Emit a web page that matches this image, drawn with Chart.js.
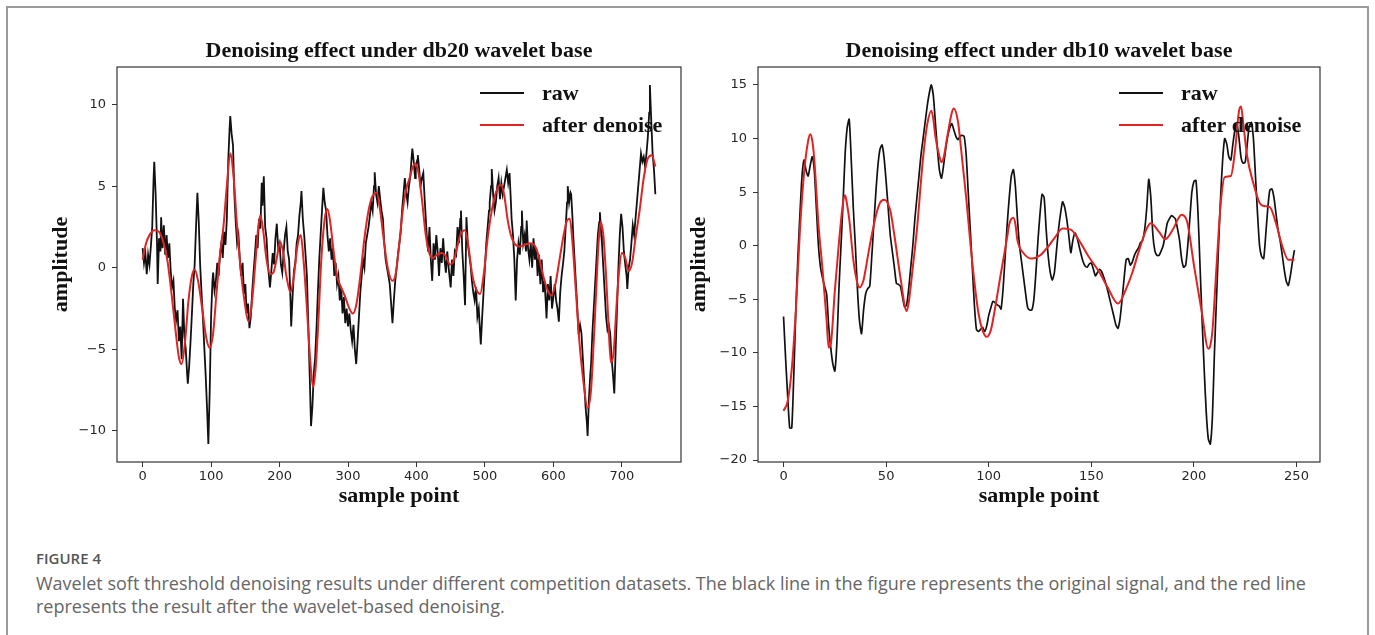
<!DOCTYPE html>
<html>
<head>
<meta charset="utf-8">
<script src="https://cdn.jsdelivr.net/npm/chart.js@4/dist/chart.umd.min.js"></script>
<style>
    html, body { margin: 0; padding: 0; background: #fff; }
    body { width: 1375px; height: 635px; position: relative; overflow: hidden; }
    .marco { position: absolute; left: 6px; top: 6px; width: 1359px; height: 700px; border: 2px solid #9b9b9b; border-bottom: none; }
    canvas { position: absolute; top: 0; }
    #grafica-db20 { left: 0; }
    #grafica-db10 { left: 640px; }
    .pie { position: absolute; left: 36px; top: 547px; width: 1330px; font-family: "Open Sans", sans-serif; color: #666; }
    .pie .etiqueta { font-size: 15px; font-weight: 600; color: #555; line-height: 22px; }
    .pie p { margin: 3px 0 0; font-size: 18px; line-height: 23px; }
</style>
</head>
<body>
<div class="marco"></div>
<canvas id="grafica-db20" width="700" height="520"></canvas>
<canvas id="grafica-db10" width="735" height="520"></canvas>
<div class="pie">
    <div class="etiqueta">FIGURE 4</div>
    <p>Wavelet soft threshold denoising results under different competition datasets. The black line in the figure represents the original signal, and the red line<br>represents the result after the wavelet-based denoising.</p>
</div>
<script>
// Ejes
const ticksXDb20 = [0, 100, 200, 300, 400, 500, 600, 700];
const ticksYDb20 = [-10, -5, 0, 5, 10];
const ticksXDb10 = [0, 50, 100, 150, 200, 250];
const ticksYDb10 = [-20, -15, -10, -5, 0, 5, 10, 15];

const etiquetas = ["raw", "after denoise"];

// [muestra, amplitud] - db20
const crudaDb20 = [
    [0,1.2],[2,0.3],[4,0.9],[6,-0.4],[8,0.8],[10,0.2],[12,1.3],[14,2.5],[16,5.5],[17,6.5],[19,4.5],[21,1.5],[22,-1.0],[24,1.8],[26,1.0],[27,3.1],[29,1.2],[31,2.6],[33,0.8],[35,2.0],[37,0.6],[39,1.5],
    [41,-0.2],[43,-1.2],[45,-0.8],[47,-2.5],[49,-3.2],[51,-2.6],[53,-4.5],[55,-3.6],[57,-5.6],[59,-1.9],[61,-4.2],[63,-5.0],[65,-6.5],[66,-7.1],[68,-6.0],[70,-4.5],[72,-2.8],[74,-1.0],[76,0.2],[78,2.5],
    [80,4.6],[82,2.8],[84,0.2],[86,-1.5],[88,-3.0],[90,-4.8],[92,-6.5],[94,-8.5],[96,-10.8],[98,-7.5],[100,-3.0],[102,-0.8],[103,-0.3],[105,-1.4],[107,-0.8],[109,0.3],[111,-0.5],[113,0.8],[115,1.5],
    [117,0.6],[119,2.2],[121,1.4],[123,3.0],[125,6.5],[127,8.5],[128,9.3],[130,8.2],[132,7.5],[134,4.5],[136,2.8],[138,1.5],[140,2.0],[142,0.5],[144,-0.5],[146,0.3],[148,-1.6],[150,-1.0],[152,-2.8],
    [154,-2.2],[156,-3.7],[158,-3.0],[160,-1.5],[162,-0.3],[164,0.8],[166,2.0],[168,1.2],[170,3.0],[172,2.4],[174,5.2],[175,3.8],[177,5.6],[179,2.5],[181,1.8],[183,0.2],[186,-1.2],[188,-0.2],[190,0.9],
    [192,0.2],[194,1.8],[196,2.7],[198,1.2],[200,1.5],[202,0.2],[204,-0.3],[206,1.0],[208,2.0],[210,2.5],[212,1.0],[214,0.5],[216,-2.0],[217,-3.6],[219,-1.8],[221,-0.2],[223,0.3],[225,1.5],[227,2.0],
    [229,3.2],[231,4.0],[232,4.7],[234,3.0],[236,2.0],[238,0.8],[240,-0.5],[242,-3.5],[244,-6.5],[246,-9.7],[248,-8.5],[250,-6.5],[252,-5.5],[254,-3.7],[256,-1.5],[258,0.5],[260,2.0],[262,3.5],[264,4.9],
    [266,4.0],[268,3.5],[270,2.0],[272,1.0],[274,1.8],[276,0.5],[278,1.2],[280,-0.5],[282,0.3],[284,-1.0],[286,-0.5],[288,-2.0],[290,-1.2],[292,-2.8],[294,-1.8],[296,-3.4],[298,-2.5],[300,-3.6],
    [302,-2.8],[304,-3.8],[306,-4.5],[308,-3.5],[310,-5.0],[312,-5.9],[314,-4.5],[316,-3.0],[318,-1.5],[320,-0.5],[322,0.5],[324,0.0],[326,1.5],[328,2.0],[330,2.5],[332,3.2],[334,4.0],[336,3.5],
    [338,5.0],[339,5.85],[341,4.5],[343,4.0],[345,5.0],[347,4.2],[349,3.5],[351,3.0],[353,1.5],[355,0.5],[357,0.0],[359,-0.5],[361,-1.0],[363,-2.2],[365,-3.4],[367,-2.0],[369,-0.8],[371,0.0],
    [373,0.8],[375,1.5],[377,2.2],[379,3.5],[381,4.5],[383,5.5],[385,4.6],[387,4.0],[389,5.0],[391,5.6],[393,6.8],[394,7.3],[396,6.5],[398,5.5],[399,6.0],[401,6.6],[402,6.9],[404,6.0],[406,5.0],
    [408,5.5],[410,5.8],[412,4.2],[413,3.5],[415,2.0],[417,1.0],[419,2.5],[421,0.5],[423,-0.8],[425,1.5],[427,0.5],[429,2.0],[431,1.0],[433,-0.5],[435,1.2],[437,0.3],[439,1.8],[441,0.5],[443,-0.3],
    [445,1.0],[447,0.0],[449,-0.8],[450,-1.2],[452,0.5],[454,-0.5],[456,1.0],[458,0.8],[460,2.5],[462,1.5],[464,3.0],[465,3.5],[467,1.0],[469,-0.5],[471,-2.3],[473,3.1],[475,1.5],[477,0.8],[479,0.2],
    [481,-0.8],[483,-1.5],[485,-2.0],[487,-1.2],[489,-3.0],[491,-2.5],[493,-4.0],[494,-4.7],[496,-3.0],[498,-1.5],[500,0.0],[502,1.5],[504,2.5],[506,3.5],[507,4.0],[509,5.0],[510,6.05],[512,4.5],
    [514,3.5],[516,4.0],[518,5.0],[520,5.5],[522,4.2],[524,5.2],[526,4.5],[528,5.0],[530,5.5],[532,6.0],[534,5.2],[536,5.8],[538,4.0],[539,3.0],[541,2.0],[543,0.5],[545,-2.0],[547,0.5],[549,1.5],
    [551,0.8],[553,2.5],[554,3.5],[556,1.5],[558,2.0],[560,1.0],[561,2.9],[563,1.2],[565,0.5],[567,1.5],[569,0.0],[571,1.8],[573,0.5],[575,1.2],[577,-0.5],[579,0.8],[581,-1.0],[583,0.5],[585,-1.5],
    [587,-0.8],[589,-2.2],[590,-3.1],[592,-1.0],[594,-2.0],[596,-0.5],[598,-2.5],[600,-1.8],[602,-1.0],[604,-2.0],[606,-2.5],[608,-3.3],[610,-1.5],[612,-0.5],[614,0.2],[616,1.0],[618,2.5],[620,4.0],
    [621,5.0],[623,4.0],[625,4.6],[626,4.5],[628,3.0],[629,2.0],[631,0.5],[633,-1.0],[635,-2.5],[637,-4.1],[639,-3.5],[641,-4.0],[643,-5.5],[645,-7.0],[647,-8.5],[649,-9.5],[650,-10.3],[652,-8.0],
    [654,-6.5],[655,-6.0],[657,-4.0],[659,-2.5],[661,-1.0],[663,0.5],[665,2.0],[667,2.8],[668,3.4],[670,2.0],[671,1.5],[673,0.0],[675,-1.5],[677,-3.0],[679,-3.8],[681,-3.5],[683,-4.0],[685,-5.5],
    [687,-6.5],[689,-7.7],[691,-5.0],[693,-2.5],[695,0.0],[697,2.0],[699,3.3],[701,2.5],[703,1.0],[705,0.2],[707,-0.5],[708,-1.3],[710,0.0],[712,0.5],[714,1.5],[716,2.6],[718,2.0],[720,3.0],
    [722,4.0],[724,5.0],[726,6.0],[728,7.0],[730,6.5],[732,6.8],[734,6.2],[736,7.0],[738,8.0],[740,9.5],[741,11.2],[743,9.0],[745,7.0],[747,6.0],[749,4.5]
];

const filtradaDb20 = [
    [0,0.5],[5,1.5],[10,2.0],[17,2.3],[24,2.2],[30,1.6],[36,0.5],[42,-1.5],[48,-3.8],[53,-5.5],[57,-5.9],[62,-4.5],[67,-2.0],[72,-0.5],[76,-0.1],[81,-0.8],[87,-2.5],[93,-4.3],[98,-4.9],[103,-4.0],
    [108,-1.5],[113,0.8],[118,2.5],[123,5.0],[128,7.0],[133,5.5],[138,2.5],[143,0.0],[148,-1.8],[155,-3.3],[160,-2.0],[165,0.5],[169,2.5],[172,3.2],[176,2.3],[181,0.5],[186,-0.4],[191,-0.3],[196,0.6],
    [201,1.6],[205,1.0],[210,-0.5],[216,-1.5],[221,-0.5],[226,1.3],[231,2.0],[235,0.5],[240,-2.5],[245,-5.8],[249,-7.3],[253,-6.0],[257,-3.0],[261,0.5],[266,3.0],[270,3.6],[274,2.8],[279,1.0],[284,-0.5],
    [290,-1.2],[296,-1.8],[302,-2.5],[307,-2.8],[312,-2.3],[318,-0.5],[324,1.8],[330,3.5],[336,4.4],[342,4.6],[347,3.5],[352,1.8],[358,0.0],[365,-0.8],[370,-0.3],[375,1.5],[380,3.5],[385,4.8],[390,5.5],
    [394,6.1],[398,6.4],[403,5.8],[408,4.2],[413,2.2],[418,1.0],[424,0.6],[430,0.8],[437,0.9],[443,0.7],[449,0.2],[453,0.3],[458,1.0],[464,2.0],[471,2.3],[476,1.3],[481,-0.3],[487,-1.3],[493,-1.6],
    [498,-0.5],[504,1.8],[510,3.5],[516,4.6],[523,5.1],[528,4.5],[533,3.0],[538,2.0],[543,1.5],[550,1.3],[558,1.4],[566,1.5],[572,1.4],[578,0.8],[584,-0.3],[590,-1.2],[597,-1.7],[603,-1.0],[609,0.5],
    [615,2.0],[620,2.9],[624,3.0],[628,1.5],[633,-1.5],[638,-4.5],[644,-7.0],[650,-8.6],[655,-7.5],[659,-4.5],[663,-1.0],[666,1.5],[669,2.8],[673,2.0],[677,-0.5],[680,-3.0],[684,-5.8],[688,-5.2],
    [692,-2.5],[696,-0.2],[700,0.9],[705,0.6],[710,-0.2],[715,0.3],[720,1.8],[726,3.5],[732,5.5],[738,6.7],[744,6.9],[749,6.2]
];

// [muestra, amplitud] - db10
const crudaDb10 = [
    [0,-6.6],[1,-10.5],[2,-14],[3,-17],[4,-17],[5,-12],[6,-6],[7,-1],[8,3],[9,6.5],[10,8],[11,7],[12,6.5],[13,7.5],[14,8.3],[15,7],[16,3.5],[17,0],[18,-2],[19,-3],[20,-3.8],[21,-4.5],[22,-7.5],
    [23,-9.5],[24,-11],[25,-11.7],[26,-9],[27,-4],[28,0],[29,4],[30,8.5],[31,11],[32,11.8],[33,8],[34,3.5],[35,0],[36,-4],[37,-7],[38,-8.2],[39,-6],[40,-4.5],[41,-4],[42,-3.8],[43,-1],[44,2],
    [45,5],[46,7.5],[47,9],[48,9.4],[49,8.2],[50,6],[51,3.5],[52,1],[53,-0.5],[54,-2],[55,-3.5],[56,-3.6],[57,-3.8],[58,-4.8],[59,-5.7],[60,-5.5],[61,-4],[62,-2],[63,0],[64,2.5],[65,4.5],[66,6.5],
    [67,8.5],[68,10],[69,11.5],[70,13],[71,14.2],[72,15],[73,14],[74,11.5],[75,9],[76,7],[77,6.3],[78,7.5],[79,9],[80,10.2],[81,11],[82,11.4],[83,10.8],[84,10.2],[85,9.9],[86,10.2],[87,10.3],
    [88,10.2],[89,8.5],[90,5],[91,1.5],[92,-2],[93,-5.5],[94,-7.8],[95,-8],[96,-7.8],[97,-7.6],[98,-8],[99,-7.5],[100,-6.5],[101,-5.8],[102,-5.2],[103,-5.3],[104,-5.5],[105,-5.6],[106,-5.9],[107,-4],
    [108,-1],[109,2],[110,4.5],[111,6.5],[112,7.1],[113,5.5],[114,2.5],[115,0],[116,-1.5],[117,-3],[118,-4.5],[119,-5.8],[120,-6],[121,-6],[122,-5],[123,-2.5],[124,0.5],[125,3],[126,4.8],[127,4.5],
    [128,1.5],[129,-1],[130,-2.5],[131,-3.2],[132,-2.5],[133,-0.5],[134,1.5],[135,3],[136,4.1],[137,3.6],[138,2.5],[139,1],[140,-0.65],[141,0.5],[142,1.2],[143,0.8],[144,0],[145,-0.8],[146,-1.5],
    [147,-1.9],[148,-2],[149,-1.7],[150,-1.6],[151,-2.2],[152,-2.8],[153,-2.5],[154,-2.2],[155,-2.4],[156,-2.9],[157,-3.5],[158,-4.2],[159,-5],[160,-5.8],[161,-6.6],[162,-7.4],[163,-7.7],[164,-6.8],
    [165,-5],[166,-3],[167,-1.3],[168,-1.2],[169,-1.8],[170,-1.5],[171,-0.9],[172,-0.5],[173,-0.2],[174,0.3],[175,0.5],[176,1.5],[177,3.5],[178,6.2],[179,4.5],[180,1],[181,-0.5],[182,-0.9],[183,-0.9],
    [184,-0.5],[185,0],[186,1],[187,2.1],[188,2.5],[189,2.8],[190,2.7],[191,2.5],[192,1.6],[193,0.5],[194,-1.2],[195,-2],[196,-1.8],[197,0],[198,2.5],[199,5],[200,6],[201,6.1],[202,3],[203,-2],
    [204,-7],[205,-11.5],[206,-15.5],[207,-18],[208,-18.5],[209,-16],[210,-10],[211,-5],[212,0],[213,4.5],[214,8],[215,10],[216,9.5],[217,8.3],[218,8],[219,9.5],[220,10.8],[221,11.3],[222,10],
    [223,8.2],[224,7.7],[225,7.8],[226,9.5],[227,11.2],[228,11.5],[229,10],[230,6.5],[231,3],[232,0],[233,-1],[234,-1.2],[235,1],[236,3.5],[237,5.2],[238,5.3],[239,4.5],[240,3],[241,1.5],[242,0.5],
    [243,-0.8],[244,-2.2],[245,-3.3],[246,-3.7],[247,-2.8],[248,-1.5],[249,-0.4]
];

const filtradaDb10 = [
    [0,-15.4],[2,-14.5],[4,-11.5],[6,-6],[8,1.5],[10,6.8],[12,9.8],[13,10.4],[14,9.8],[15,8],[17,2],[19,-2.2],[21,-7],[22,-9.5],[23,-9.2],[25,-4.2],[27,0.3],[29,4],[30,4.7],[31,3.8],[32,2.5],
    [34,-1.3],[36,-3.5],[37,-3.9],[39,-3.2],[40,-2.2],[42,0],[45,2.8],[47,4],[49,4.3],[52,3.3],[54,1],[57,-3],[60,-6.1],[61,-5.3],[63,-2],[65,1.5],[68,8.2],[70,11.3],[72,12.6],[73,11.8],[74,10.2],
    [76,8.3],[77,7.8],[78,8.2],[80,10.4],[82,12.4],[83,12.8],[85,11.6],[86,10],[89,4.5],[92,-1.6],[95,-6.3],[97,-7.9],[99,-8.5],[101,-7.9],[102,-7],[106,-2.5],[109,0.8],[110,2],[112,2.6],[113,2],
    [114,0.5],[117,-0.7],[121,-1.2],[125,-0.9],[128,-0.3],[132,0.7],[136,1.6],[140,1.5],[144,0.5],[149,-1.1],[154,-2.5],[158,-3.9],[163,-5.4],[167,-4],[170,-2.5],[173,-0.6],[177,1.6],[179,2.1],[183,1.3],
    [186,0.6],[190,1.6],[192,2.4],[194,2.9],[196,2.6],[197,2],[200,-1.8],[204,-6.4],[207,-9.6],[208,-9.3],[209,-8],[211,-2],[213,3.8],[215,6.4],[218,6.5],[220,8.8],[222,12.6],[223,13],[224,11.5],
    [226,8.3],[229,5.8],[232,4],[234,3.7],[237,3.6],[240,2.1],[243,0],[246,-1.3],[249,-1.3]
];

const fuenteSerif = { family: "Liberation Serif", size: 22, weight: "bold" };
const fuenteTicks = { family: "DejaVu Sans", size: 13 };

const marco = {
    id: "marco",
    afterDatasetsDraw(chart) {
        const { ctx, chartArea } = chart;
        ctx.save();
        ctx.strokeStyle = "#333";
        ctx.lineWidth = 1.2;
        ctx.strokeRect(chartArea.left, chartArea.top, chartArea.width, chartArea.height);
        ctx.restore();
    }
};

// leyenda sin caja, arriba a la derecha dentro del area
const leyenda = {
    id: "leyenda",
    afterDraw(chart) {
        const { ctx, chartArea } = chart;
        const x = chartArea.right - 139;
        ctx.save();
        ctx.font = "bold 22px 'Liberation Serif'";
        ctx.textBaseline = "middle";
        chart.data.datasets.forEach((dataset, i) => {
            const y = chartArea.top + 27 + i * 32;
            ctx.strokeStyle = dataset.borderColor;
            ctx.lineWidth = 2;
            ctx.beginPath();
            ctx.moveTo(x - 62, y - 1);
            ctx.lineTo(x - 18, y - 1);
            ctx.stroke();
            ctx.fillStyle = "#111";
            ctx.fillText(dataset.label, x, y);
        });
        ctx.restore();
    }
};

function conMenos(valor) {
    return String(valor).replace("-", "\u2212");
}

function rangoY(series) {
    const valores = series.flat().map((punto) => punto[1]);
    const min = Math.min(...valores);
    const max = Math.max(...valores);
    const margen = (max - min) * 0.05;
    return { min: min - margen, max: max + margen };
}

function crearGrafica(id, titulo, cruda, filtrada, ticksX, ticksY, disposicion) {
    const ultima = Math.max(...cruda.concat(filtrada).map((punto) => punto[0]));
    const y = rangoY([cruda, filtrada]);

    return new Chart(document.getElementById(id), {
        type: "line",
        data: {
            datasets: [
                {
                    label: etiquetas[0],
                    data: cruda.map(([m, a]) => ({ x: m, y: a })),
                    borderColor: "#111",
                    borderWidth: disposicion.grosor,
                    tension: disposicion.tension,
                    pointRadius: 0,
                    order: 1
                },
                {
                    label: etiquetas[1],
                    data: filtrada.map(([m, a]) => ({ x: m, y: a })),
                    borderColor: "#e02424",
                    borderWidth: 2,
                    cubicInterpolationMode: "monotone",
                    pointRadius: 0,
                    order: 0
                }
            ]
        },
        options: {
            responsive: false,
            animation: false,
            devicePixelRatio: 1,
            events: [],
            layout: {
                padding: { left: disposicion.izquierda, right: disposicion.derecha, top: 0, bottom: 10.8 }
            },
            plugins: {
                legend: { display: false },
                tooltip: { enabled: false },
                title: {
                    display: true,
                    text: titulo,
                    fullSize: false,
                    color: "#111",
                    font: fuenteSerif,
                    padding: { top: 37.8, bottom: 2.8 }
                }
            },
            scales: {
                x: {
                    type: "linear",
                    min: -0.05 * ultima,
                    max: 1.05 * ultima,
                    afterBuildTicks: (escala) => { escala.ticks = ticksX.map((v) => ({ value: v })); },
                    afterFit: (escala) => { escala.height = 47.2; },
                    grid: { drawOnChartArea: false, color: "#333", tickLength: 5 },
                    border: { display: false },
                    ticks: { color: "#262626", font: fuenteTicks, padding: 2, maxRotation: 0, autoSkip: false, callback: conMenos },
                    title: { display: true, text: "sample point", color: "#111", font: fuenteSerif, padding: 0 }
                },
                y: {
                    min: y.min,
                    max: y.max,
                    afterBuildTicks: (escala) => { escala.ticks = ticksY.map((v) => ({ value: v })); },
                    afterFit: (escala) => { escala.width = disposicion.anchoEjeY; },
                    grid: { drawOnChartArea: false, color: "#333", tickLength: 5 },
                    border: { display: false },
                    ticks: { color: "#262626", font: fuenteTicks, padding: 6, autoSkip: false, callback: conMenos },
                    title: { display: true, text: "amplitude", color: "#111", font: fuenteSerif, padding: 0 }
                }
            }
        },
        plugins: [marco, leyenda]
    });
}

crearGrafica("grafica-db20", "Denoising effect under db20 wavelet base", crudaDb20, filtradaDb20, ticksXDb20, ticksYDb20,
    { izquierda: 47.8, anchoEjeY: 69.2, derecha: 19, tension: 0, grosor: 1.8 });
crearGrafica("grafica-db10", "Denoising effect under db10 wavelet base", crudaDb10, filtradaDb10, ticksXDb10, ticksYDb10,
    { izquierda: 45.8, anchoEjeY: 72.2, derecha: 55, tension: 0.2, grosor: 1.7 });
</script>
</body>
</html>
